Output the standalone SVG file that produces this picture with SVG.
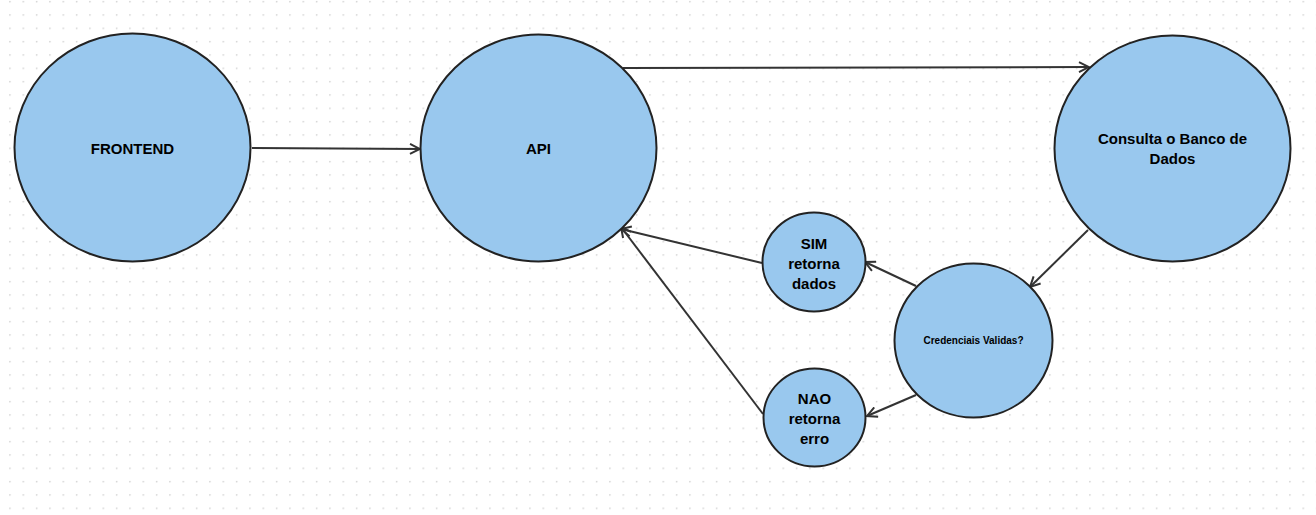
<svg xmlns="http://www.w3.org/2000/svg" width="1316" height="515" viewBox="0 0 1316 515">
<style>
.n{fill:#99c8ee;stroke:#222;stroke-width:2}
.t{font-family:"Liberation Sans",Arial,sans-serif;font-weight:bold;font-size:15px;fill:#000;text-anchor:middle;dominant-baseline:central}
.s{font-size:10px}
.c{stroke:#333;stroke-width:2;fill:none;marker-end:url(#ah)}
</style>
<defs>
<pattern id="dots" x="9.2" y="0.9" width="13.333" height="13.333" patternUnits="userSpaceOnUse">
<circle cx="0.8" cy="0.8" r="0.75" fill="#c4c4c4"/>
</pattern>
<marker id="ah" viewBox="0 0 12 12" refX="11" refY="6" markerWidth="12" markerHeight="12" markerUnits="userSpaceOnUse" orient="auto">
<path d="M1,1 L11,6 L1,11" fill="none" stroke="#333" stroke-width="2"/>
</marker>
</defs>
<rect width="1316" height="515" fill="#fff"/>
<rect width="1316" height="515" fill="url(#dots)"/>
<g id="connectors">
<line class="c" x1="252" y1="148" x2="420" y2="149"/>
<line class="c" x1="623" y1="68" x2="1089" y2="67"/>
<line class="c" x1="1088" y1="230" x2="1030" y2="287"/>
<line class="c" x1="916" y1="286" x2="865" y2="262"/>
<line class="c" x1="916" y1="395" x2="867" y2="416"/>
<line class="c" x1="762" y1="263" x2="621" y2="229"/>
<line class="c" x1="763" y1="414" x2="621" y2="227"/>
</g>
<g id="frontend"><ellipse class="n" cx="132.5" cy="147.5" rx="118" ry="114"/><text class="t" x="132.5" y="148">FRONTEND</text></g>
<g id="api"><ellipse class="n" cx="538.5" cy="148" rx="118" ry="113.5"/><text class="t" x="538.5" y="148">API</text></g>
<g id="consulta"><ellipse class="n" cx="1172.5" cy="148.5" rx="118" ry="113"/><text class="t" x="1172.5" y="138">Consulta o Banco de</text><text class="t" x="1172.5" y="158">Dados</text></g>
<g id="credenciais"><ellipse class="n" cx="973.5" cy="340.5" rx="79" ry="77"/><text class="t s" x="973.5" y="340">Credenciais Validas?</text></g>
<g id="sim"><ellipse class="n" cx="814" cy="262" rx="51.5" ry="49.5"/><text class="t" x="814" y="243">SIM</text><text class="t" x="814" y="263">retorna</text><text class="t" x="814" y="283">dados</text></g>
<g id="nao"><ellipse class="n" cx="814.5" cy="417.5" rx="51" ry="49"/><text class="t" x="814.5" y="398">NAO</text><text class="t" x="814.5" y="418">retorna</text><text class="t" x="814.5" y="438">erro</text></g>
</svg>
